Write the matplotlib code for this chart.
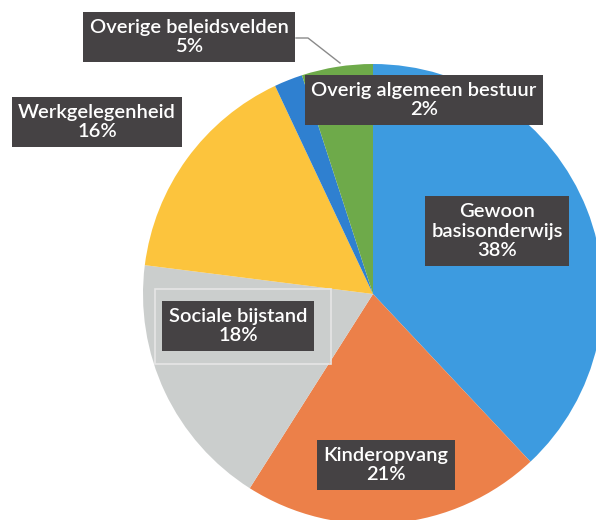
import matplotlib.pyplot as plt

plt.rcParams["font.family"] = ["Lato", "DejaVu Sans"]

# Budget share per policy field (%)
labels = ["Gewoon\nbasisonderwijs", "Kinderopvang", "Sociale bijstand",
          "Werkgelegenheid", "Overig algemeen bestuur", "Overige beleidsvelden"]
shares = [38, 21, 18, 16, 2, 5]
colors = ["#3d9be0", "#ec8049", "#cbcecd", "#fcc43d", "#2f80d0", "#6eaa4a"]

# label box centres in pixel coordinates (x, y from top)
label_pos = [(497, 231), (386, 465), (238, 326), (97, 122), (424, 100), (189, 37)]

W, H = 596, 520
fig = plt.figure(figsize=(W / 100, H / 100), dpi=100)
ax = fig.add_axes([0, 0, 1, 1])

ax.pie(shares, colors=colors, startangle=90, counterclock=False,
       center=(373, H - 294), radius=230, frame=True,
       wedgeprops=dict(linewidth=0))
ax.set_xlim(0, W)
ax.set_ylim(0, H)
ax.set_aspect("equal")
ax.axis("off")

for lab, val, (x, y) in zip(labels, shares, label_pos):
    ax.text(x, H - y, f"{lab}\n{val}%", ha="center", va="center",
            color="white", fontsize=14.5, fontweight="semibold", linespacing=1.2,
            zorder=5,
            bbox=dict(boxstyle="square,pad=0.32", fc="#454244", ec="none"))

# faint selection frame round the social assistance label
ax.add_patch(plt.Rectangle((155, H - 364), 176, 75, fill=False,
                           ec="#e6e6e6", lw=1.2, zorder=4))

# leader line for the small green slice
ax.plot([296, 308, 340], [H - 38, H - 38, H - 63], color="#8a8a8a", lw=1, zorder=4)

fig.savefig("out.png", dpi=100)
